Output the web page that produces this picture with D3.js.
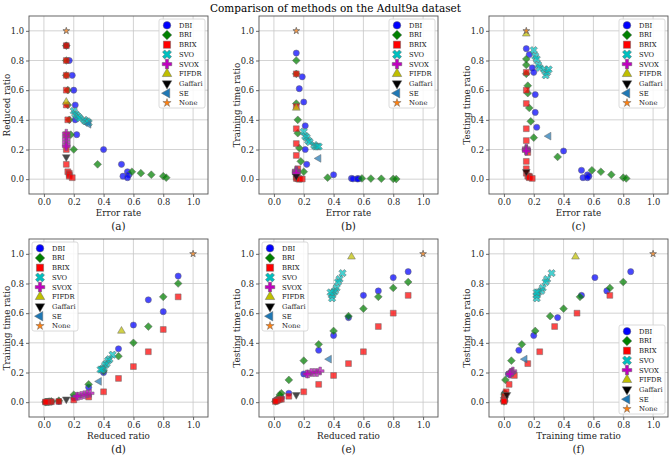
<!DOCTYPE html>
<html>
<head>
<meta charset="utf-8">
<script src="https://cdn.jsdelivr.net/npm/d3@7"></script>
<style>
  body { margin: 0; background: #fff; }
  text { font-family: "DejaVu Serif", serif; }
</style>
</head>
<body>
<div id="chart"></div>
<script>
// values per method: error rate, reduced ratio, training / testing time ratio
const DBI_err   = [0.15, 0.17, 0.19, 0.20, 0.21, 0.21, 0.22, 0.40, 0.52, 0.56, 0.57, 0.53, 0.56];
const DBI_red   = [0.90, 0.80, 0.70, 0.60, 0.50, 0.40, 0.30, 0.20, 0.10, 0.05, 0.03, 0.02, 0.01];
const DBI_train = [0.85, 0.61, 0.69, 0.52, 0.36, 0.20, 0.10, 0.03, 0.005, 0.004, 0.003, 0.002, 0.001];
const DBI_test  = [0.88, 0.84, 0.75, 0.72, 0.57, 0.45, 0.35, 0.19, 0.06, 0.03, 0.02, 0.01, 0.01];

const BRI_err   = [0.15, 0.15, 0.15, 0.16, 0.16, 0.17, 0.18, 0.20, 0.36, 0.59, 0.65, 0.72, 0.80, 0.82];
const BRI_red   = [0.90, 0.80, 0.70, 0.60, 0.50, 0.40, 0.30, 0.20, 0.10, 0.05, 0.04, 0.03, 0.02, 0.01];
const BRI_train = [0.80, 0.71, 0.51, 0.40, 0.31, 0.21, 0.12, 0.05, 0.01, 0.005, 0.004, 0.003, 0.002, 0.001];
const BRI_test  = [0.81, 0.77, 0.71, 0.63, 0.58, 0.48, 0.39, 0.28, 0.15, 0.06, 0.05, 0.03, 0.01, 0.005];

const BRIX_err   = [0.15, 0.15, 0.15, 0.15, 0.15, 0.16, 0.15, 0.15, 0.15, 0.16, 0.17, 0.17, 0.17, 0.19];
const BRIX_red   = [0.90, 0.80, 0.70, 0.60, 0.50, 0.40, 0.30, 0.20, 0.10, 0.05, 0.04, 0.03, 0.02, 0.01];
const BRIX_train = [0.71, 0.49, 0.34, 0.24, 0.16, 0.07, 0.035, 0.015, 0.005, 0.003, 0.002, 0.002, 0.001, 0.001];
const BRIX_test  = [0.72, 0.60, 0.51, 0.34, 0.26, 0.18, 0.12, 0.07, 0.04, 0.02, 0.02, 0.015, 0.01, 0.005];

const SVO_err   = [0.20, 0.21, 0.22, 0.23, 0.24, 0.27, 0.28, 0.29, 0.30];
const SVO_red   = [0.46, 0.44, 0.43, 0.42, 0.41, 0.40, 0.39, 0.39, 0.38];
const SVO_train = [0.32, 0.29, 0.28, 0.26, 0.25, 0.23, 0.22, 0.22, 0.22];
const SVO_test  = [0.87, 0.83, 0.81, 0.77, 0.75, 0.74, 0.70, 0.72, 0.74];

const SVOX_err   = [0.15, 0.15, 0.15, 0.15, 0.15, 0.15];
const SVOX_red   = [0.31, 0.29, 0.27, 0.25, 0.23, 0.22];
const SVOX_train = [0.06, 0.055, 0.05, 0.045, 0.04, 0.04];
const SVOX_test  = [0.21, 0.20, 0.20, 0.20, 0.19, 0.19];

const FIFDR_err = [0.15], FIFDR_red = [0.52], FIFDR_train = [0.48], FIFDR_test = [0.98];
const Gaffari_err = [0.15], Gaffari_red = [0.15], Gaffari_train = [0.02], Gaffari_test = [0.05];
const SE_err = [0.30], SE_red = [0.37], SE_train = [0.14], SE_test = [0.29];
const None_err = [0.15], None_red = [1.0], None_train = [1.0], None_test = [1.0];

const methodNames = ["DBI", "BRI", "BRIX", "SVO", "SVOX", "FIFDR", "Gaffari", "SE", "None"];
const tickValues = [0, 0.2, 0.4, 0.6, 0.8, 1.0];
const panelTags = ["(a)", "(b)", "(c)", "(d)", "(e)", "(f)"];

const raw = {
  DBI: [DBI_err, DBI_red, DBI_train, DBI_test],
  BRI: [BRI_err, BRI_red, BRI_train, BRI_test],
  BRIX: [BRIX_err, BRIX_red, BRIX_train, BRIX_test],
  SVO: [SVO_err, SVO_red, SVO_train, SVO_test],
  SVOX: [SVOX_err, SVOX_red, SVOX_train, SVOX_test],
  FIFDR: [FIFDR_err, FIFDR_red, FIFDR_train, FIFDR_test],
  Gaffari: [Gaffari_err, Gaffari_red, Gaffari_train, Gaffari_test],
  SE: [SE_err, SE_red, SE_train, SE_test],
  None: [None_err, None_red, None_train, None_test]
};

// marker styles (matplotlib-like)
const styles = {
  DBI:     {type: d3.symbolCircle, size: 30, rot: 0,   color: "#0000ff"},
  BRI:     {type: d3.symbolSquare, size: 30, rot: 45,  color: "#008000"},
  BRIX:    {type: d3.symbolSquare, size: 34, rot: 0,   color: "#ff0000"},
  SVO:     {type: d3.symbolCross,  size: 34, rot: 45,  color: "#00bfbf"},
  SVOX:    {type: d3.symbolCross,  size: 34, rot: 0,   color: "#bf00bf"},
  FIFDR:   {type: d3.symbolTriangle, size: 26, rot: 0,  color: "#bfbf00"},
  Gaffari: {type: d3.symbolTriangle, size: 26, rot: 180, color: "#000000"},
  SE:      {type: d3.symbolTriangle, size: 26, rot: -90, color: "#1f77b4"},
  None:    {type: d3.symbolStar,   size: 14, rot: 0,   color: "#ff7f0e"}
};

const keys = ["err", "red", "train", "test"];
const data = methodNames.map(name => ({
  name,
  points: raw[name][0].map((_, i) => {
    const p = {};
    keys.forEach((k, j) => p[k] = raw[name][j][i]);
    return p;
  })
}));

const panels = [
  {x: "err", y: "red", xl: "Error rate", yl: "Reduced ratio", legend: "tr"},
  {x: "err", y: "train", xl: "Error rate", yl: "Training time ratio", legend: "tr"},
  {x: "err", y: "test", xl: "Error rate", yl: "Testing time ratio", legend: "tr"},
  {x: "red", y: "train", xl: "Reduced ratio", yl: "Training time ratio", legend: "tl"},
  {x: "red", y: "test", xl: "Reduced ratio", yl: "Testing time ratio", legend: "tl"},
  {x: "train", y: "test", xl: "Training time ratio", yl: "Testing time ratio", legend: "br"}
];

const W = 671, H = 457;
const lefts = [29, 259, 489], tops = [16, 239];
const pw = 179, ph = 178;

const svg = d3.select("#chart").append("svg")
  .attr("width", W).attr("height", H);
svg.append("rect").attr("width", W).attr("height", H).attr("fill", "#fff");

svg.append("text")
  .attr("x", W / 2).attr("y", 12)
  .attr("text-anchor", "middle")
  .attr("font-size", 10.5)
  .text("Comparison of methods on the Adult9a dataset");

const fmt = d3.format(".1f");

panels.forEach((p, idx) => {
  const left = lefts[idx % 3], top = tops[Math.floor(idx / 3)];
  const g = svg.append("g").attr("transform", `translate(${left},${top})`);

  const x = d3.scaleLinear().domain([-0.1, 1.1]).range([0, pw]);
  const y = d3.scaleLinear().domain([-0.1, 1.1]).range([ph, 0]);

  // grid
  g.append("g").selectAll("line").data(tickValues).join("line")
    .attr("x1", d => x(d)).attr("x2", d => x(d))
    .attr("y1", 0).attr("y2", ph)
    .attr("stroke", "#c8c8c8").attr("stroke-width", 0.8);
  g.append("g").selectAll("line").data(tickValues).join("line")
    .attr("y1", d => y(d)).attr("y2", d => y(d))
    .attr("x1", 0).attr("x2", pw)
    .attr("stroke", "#c8c8c8").attr("stroke-width", 0.8);

  // axes
  const xAxis = g.append("g").attr("transform", `translate(0,${ph})`)
    .call(d3.axisBottom(x).tickValues(tickValues).tickFormat(fmt).tickSize(3).tickPadding(2));
  const yAxis = g.append("g")
    .call(d3.axisLeft(y).tickValues(tickValues).tickFormat(fmt).tickSize(3).tickPadding(2));
  [xAxis, yAxis].forEach(a => {
    a.select(".domain").remove();
    a.selectAll("line").attr("stroke", "#444").attr("stroke-width", 0.8);
    a.selectAll("text").attr("font-family", "DejaVu Serif").attr("font-size", 8.3).attr("fill", "#222");
  });

  g.append("rect").attr("width", pw).attr("height", ph)
    .attr("fill", "none").attr("stroke", "#555").attr("stroke-width", 0.9);

  // points
  data.forEach(m => {
    const s = styles[m.name];
    g.append("g").selectAll("path").data(m.points).join("path")
      .attr("d", d3.symbol().type(s.type).size(s.size))
      .attr("transform", d => `translate(${x(d[p.x])},${y(d[p.y])}) rotate(${s.rot})`)
      .attr("fill", s.color).attr("fill-opacity", 0.72)
      .attr("stroke", "#666").attr("stroke-width", m.name === "None" ? 0.8 : 0.5);
  });

  // labels
  g.append("text").attr("x", pw / 2).attr("y", ph + 22)
    .attr("text-anchor", "middle").attr("font-size", 8.8).attr("fill", "#222")
    .text(p.xl);
  g.append("text")
    .attr("transform", `translate(-19,${ph / 2}) rotate(-90)`)
    .attr("text-anchor", "middle").attr("font-size", 8.8).attr("fill", "#222")
    .text(p.yl);
  g.append("text").attr("x", pw / 2).attr("y", ph + 36)
    .attr("text-anchor", "middle").attr("font-size", 10.5).attr("fill", "#222")
    .text(panelTags[idx]);

  // legend
  const lw = 46, lh = 89;
  const lx = p.legend === "tl" ? 3 : pw - lw - 3;
  const ly = p.legend === "br" ? ph - lh - 3 : 3;
  const lg = g.append("g").attr("transform", `translate(${lx},${ly})`);
  lg.append("rect").attr("width", lw).attr("height", lh).attr("rx", 2)
    .attr("fill", "#fff").attr("fill-opacity", 0.85)
    .attr("stroke", "#d0d0d0").attr("stroke-width", 0.8);
  methodNames.forEach((name, i) => {
    const s = styles[name];
    const cy = 6.3 + i * 9.7;
    lg.append("path")
      .attr("d", d3.symbol().type(s.type).size(s.size * 1.5))
      .attr("transform", `translate(8,${cy}) rotate(${s.rot})`)
      .attr("fill", s.color).attr("stroke", "#666").attr("stroke-width", 0.5);
    lg.append("text").attr("x", 20).attr("y", cy + 2.4)
      .attr("font-size", 6.8).attr("fill", "#222").text(name);
  });
});
</script>
</body>
</html>
